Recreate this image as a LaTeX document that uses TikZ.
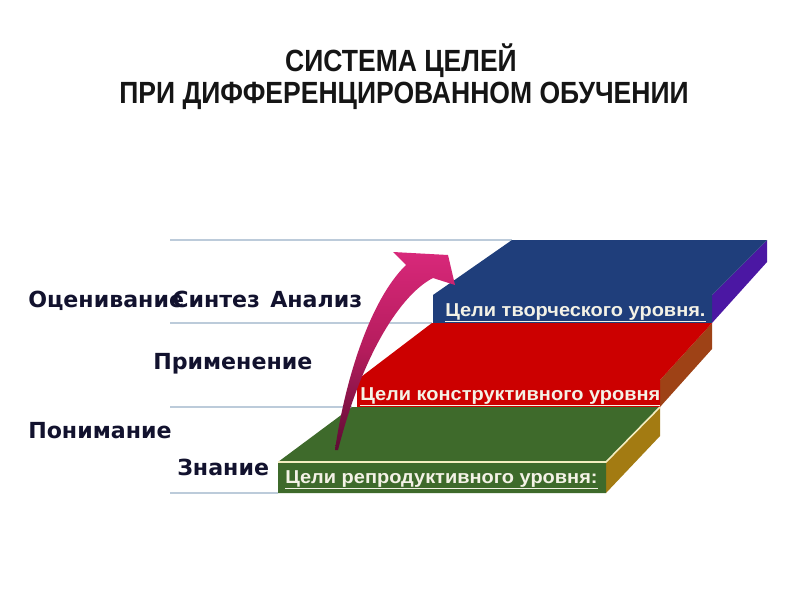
\documentclass[tikz,border=0pt]{standalone}
\usepackage{fontspec}
\setmainfont{DejaVu Sans}
\newfontfamily\lvlfont{DejaVu Sans}
\newfontfamily\goalfont{Liberation Sans}[FakeStretch=1.07]
\newfontfamily\titlefont{Liberation Sans}[FakeStretch=0.865]
\usetikzlibrary{positioning}
\definecolor{slGreen}{HTML}{3E6A2B}
\definecolor{slGreenSide}{HTML}{A37B12}
\definecolor{slEdge}{HTML}{F4EEC0}
\definecolor{slRed}{HTML}{CC0000}
\definecolor{slRedSide}{HTML}{9E4216}
\definecolor{slBlue}{HTML}{1F3E7B}
\definecolor{slBlueSide}{HTML}{4B17A3}
\definecolor{gridGrey}{HTML}{BCCBDA}
\definecolor{lvlNavy}{HTML}{12122E}
\definecolor{goalWhite}{HTML}{F4F2E6}
\definecolor{titleInk}{HTML}{151515}
\definecolor{arrPink}{HTML}{D8287A}
\definecolor{arrMid}{HTML}{B41C5C}
\definecolor{arrDark}{HTML}{5E0C34}
\tikzset{
  gridline/.style  = {gridGrey, line width=0.9pt},
  titletxt/.style  = {font=\titlefont\bfseries\fontsize{23}{24}\selectfont,
                      text=titleInk, inner sep=0pt, anchor=base},
  lvl/.style       = {font=\lvlfont\bfseries\fontsize{16.6}{18}\selectfont,
                      text=lvlNavy, inner sep=0pt, anchor=base west},
  goal/.style      = {font=\goalfont\bfseries\fontsize{14}{16}\selectfont,
                      text=goalWhite, inner sep=0pt, anchor=base west},
}

\begin{document}
\begin{tikzpicture}[x=0.75pt, y=-0.75pt]
  \useasboundingbox[fill=white] (0,0) rectangle (800,600);
  % title
  \node[titletxt] (title1) at (401,71) {СИСТЕМА ЦЕЛЕЙ};
  \node[titletxt] (title2) at (404,103) {ПРИ ДИФФЕРЕНЦИРОВАННОМ ОБУЧЕНИИ};
  % slab corners: front left, back left, back right, front right
  \coordinate (gFL) at (278,462); \coordinate (gBL) at (352,407);
  \coordinate (gBR) at (660,407); \coordinate (gFR) at (606,462);
  \coordinate (rFL) at (357,380); \coordinate (rBL) at (432,323);
  \coordinate (rBR) at (712,323); \coordinate (rFR) at (660,380);
  \coordinate (bFL) at (433,295); \coordinate (bBL) at (512,240);
  \coordinate (bBR) at (767,240); \coordinate (bFR) at (712,295);
  % grey level lines
  \draw[gridline] (170,240) -- (bBL);
  \draw[gridline] (170,323) -- (rBL);
  \draw[gridline] (170,407) -- (gBL);
  \draw[gridline] (170,493) -- (278,493);
  % blue slab
  \fill[slBlueSide] (bFR) -- (bBR) -- (767,262) -- (712,323) -- cycle;
  \fill[slBlue] (bFL) -- (bBL) -- (bBR) -- (bFR) -- (712,323) -- (433,323) -- cycle;
  % red slab
  \fill[slRedSide] (rFR) -- (rBR) -- (712,349) -- (660,407) -- cycle;
  \fill[slRed] (rFL) -- (rBL) -- (rBR) -- (rFR) -- (660,407) -- (357,407) -- cycle;
  % green slab
  \fill[slGreenSide] (gFR) -- (gBR) -- (660,436) -- (606,493) -- cycle;
  \fill[slGreen] (gFL) -- (gBL) -- (gBR) -- (gFR) -- (606,493) -- (278,493) -- cycle;
  \draw[slEdge, line width=1.2pt] (gFL) -- (gFR) -- (gBR);
  % curved arrow
  \shade[top color=arrPink, bottom color=arrDark, middle color=arrMid]
    (335,450) .. controls (345,380) and (370,300) .. (406,265)
    -- (393,252) -- (448,255) -- (455,285) -- (433,278)
    .. controls (405,292) and (365,345) .. (338,450) -- cycle;
  % level names
  \node[lvl] (ocen) at (28,307) {Оценивание};
  \node[lvl] (sint) at (172,307) {Синтез};
  \node[lvl] (anal) at (270,307) {Анализ};
  \node[lvl] (prim) at (153,369) {Применение};
  \node[lvl] (ponim) at (28,438) {Понимание};
  \node[lvl] (znan) at (177,475) {Знание};
  % goals
  \node[goal] (repr) at (285,483) {\underline{Цели репродуктивного уровня:}};
  \node[goal] (konstr) at (360,400) {\underline{Цели конструктивного уровня}};
  \node[goal] (tvor) at (445,316) {\underline{Цели творческого уровня.}};
\end{tikzpicture}
\end{document}
